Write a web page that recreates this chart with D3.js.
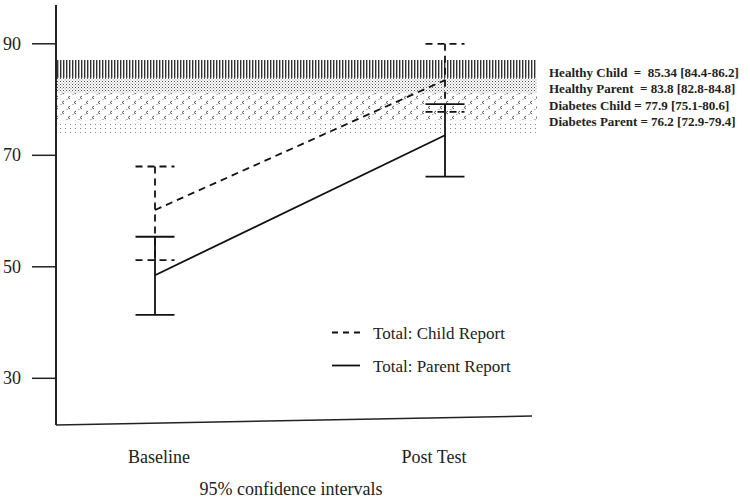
<!DOCTYPE html>
<html><head><meta charset="utf-8">
<script src="https://cdn.jsdelivr.net/npm/d3@7"></script>
<style>body{margin:0;background:#fff}svg{display:block}</style>
</head><body>
<svg id="c" width="750" height="498"></svg>
<script>
const categories = ["Baseline", "Post Test"];
const childMean = [60.1, 83.4];
const childLo = [51.1, 77.7];
const childHi = [67.9, 89.9];
const parentMean = [48.4, 73.5];
const parentLo = [41.3, 66.1];
const parentHi = [55.3, 79.1];
const yTicks = [30, 50, 70, 90];
const bandNames = ["Healthy Child", "Healthy Parent", "Diabetes Child", "Diabetes Parent"];
const bandLo = [83.8, 81.1, 76.1, 73.9];
const bandHi = [87.0, 83.8, 81.1, 76.1];
const bandLabels = ["Healthy Child  =  85.34 [84.4-86.2]", "Healthy Parent  = 83.8 [82.8-84.8]", "Diabetes Child = 77.9 [75.1-80.6]", "Diabetes Parent = 76.2 [72.9-79.4]"];
const seriesNames = ["Total: Child Report", "Total: Parent Report"];

const svg = d3.select("#c");
const serif = "Liberation Serif, Times New Roman, serif";
const y = d3.scaleLinear().domain([30, 90]).range([377.8, 43.3]);
const x = d3.scalePoint().domain(categories).range([155, 445]);
const axX = 56, bandRight = 537;

// patterns
const defs = svg.append("defs");
const p1 = defs.append("pattern").attr("id","pv").attr("patternUnits","userSpaceOnUse").attr("width",3).attr("height",10);
p1.append("rect").attr("x",0).attr("y",0).attr("width",1.4).attr("height",10).attr("fill","#333");
const p2 = defs.append("pattern").attr("id","pf").attr("patternUnits","userSpaceOnUse").attr("width",3).attr("height",3);
p2.append("rect").attr("x",0).attr("y",0).attr("width",1).attr("height",1).attr("fill","#555");
p2.append("rect").attr("x",1.5).attr("y",1.5).attr("width",1).attr("height",1).attr("fill","#888");
const p3 = defs.append("pattern").attr("id","pc").attr("patternUnits","userSpaceOnUse").attr("width",12).attr("height",10);
[[0,0],[6,5]].forEach(([dx,dy])=>{
  p3.append("path").attr("d",`M${dx+4},${dy+1} L${dx+2},${dy+2.5} L${dx+4},${dy+4}`).attr("fill","none").attr("stroke","#555").attr("stroke-width",1);
  p3.append("rect").attr("x",dx+0.5).attr("y",dy+4).attr("width",1).attr("height",1).attr("fill","#777");
});
const p4 = defs.append("pattern").attr("id","ps").attr("patternUnits","userSpaceOnUse").attr("width",5).attr("height",4);
p4.append("rect").attr("x",0).attr("y",0).attr("width",1).attr("height",1).attr("fill","#888");
const pats = ["url(#pv)","url(#pf)","url(#pc)","url(#ps)"];

svg.append("g").selectAll("rect").data(bandNames).join("rect")
  .attr("x", axX).attr("width", bandRight - axX)
  .attr("y", (d,i)=>y(bandHi[i])).attr("height", (d,i)=>y(bandLo[i]) - y(bandHi[i]))
  .attr("fill", (d,i)=>pats[i]);

// band labels
svg.append("g").selectAll("text").data(bandLabels).join("text")
  .attr("x", 549).attr("y", (d,i)=>77 + i*16.3)
  .attr("font-family", serif).attr("font-weight","bold").attr("font-size", 13)
  .attr("fill","#222").style("white-space","pre").text(d=>d);

// y axis
const yAxis = d3.axisLeft(y).tickValues(yTicks).tickSize(24).tickPadding(11);
const gy = svg.append("g").attr("transform",`translate(${axX},0)`).call(yAxis);
gy.select(".domain").remove();
gy.selectAll(".tick line").attr("stroke","#222").attr("stroke-width",1.5);
gy.selectAll(".tick text").attr("font-family",serif).attr("font-size",18).attr("fill","#222");
svg.append("line").attr("x1",axX).attr("x2",axX).attr("y1",5).attr("y2",425).attr("stroke","#222").attr("stroke-width",2);
svg.append("line").attr("x1",axX).attr("x2",532).attr("y1",425).attr("y2",416).attr("stroke","#222").attr("stroke-width",1.5);

// x labels
svg.append("g").selectAll("text").data(categories).join("text")
  .attr("x", (d,i)=>x(d) + (i===0?4:-11)).attr("y", 463).attr("text-anchor","middle")
  .attr("font-family",serif).attr("font-size",18).attr("fill","#222").text(d=>d);
svg.append("text").attr("x",291).attr("y",495).attr("text-anchor","middle")
  .attr("font-family",serif).attr("font-size",18).attr("fill","#222").text("95% confidence intervals");

// series
const series = [
  {mean: childMean, lo: childLo, hi: childHi, dash: "7,5"},
  {mean: parentMean, lo: parentLo, hi: parentHi, dash: null}
];
const capW = 19.5;
series.forEach(s=>{
  const g = svg.append("g").attr("stroke","#111").attr("stroke-width",1.8).attr("fill","none");
  if (s.dash) g.attr("stroke-dasharray", s.dash);
  g.append("path").attr("d", d3.line().x((d,i)=>x(categories[i])).y(d=>y(d))(s.mean));
  categories.forEach((c,i)=>{
    g.append("line").attr("x1",x(c)).attr("x2",x(c)).attr("y1",y(s.hi[i])).attr("y2",y(s.lo[i]));
    [s.hi[i], s.lo[i]].forEach(v=>{
      g.append("line").attr("x1",x(c)-capW).attr("x2",x(c)+capW).attr("y1",y(v)).attr("y2",y(v));
    });
  });
});

// legend
const lg = svg.append("g");
seriesNames.forEach((n,i)=>{
  const yy = 332.5 + i*33;
  const l = lg.append("line").attr("x1",332).attr("x2",360).attr("y1",yy).attr("y2",yy).attr("stroke","#111").attr("stroke-width",1.8);
  if (i===0) l.attr("stroke-dasharray","6,5");
  lg.append("text").attr("x",373).attr("y",yy+6).attr("font-family",serif).attr("font-size",17).attr("fill","#222").text(n);
});
</script>
</body></html>
